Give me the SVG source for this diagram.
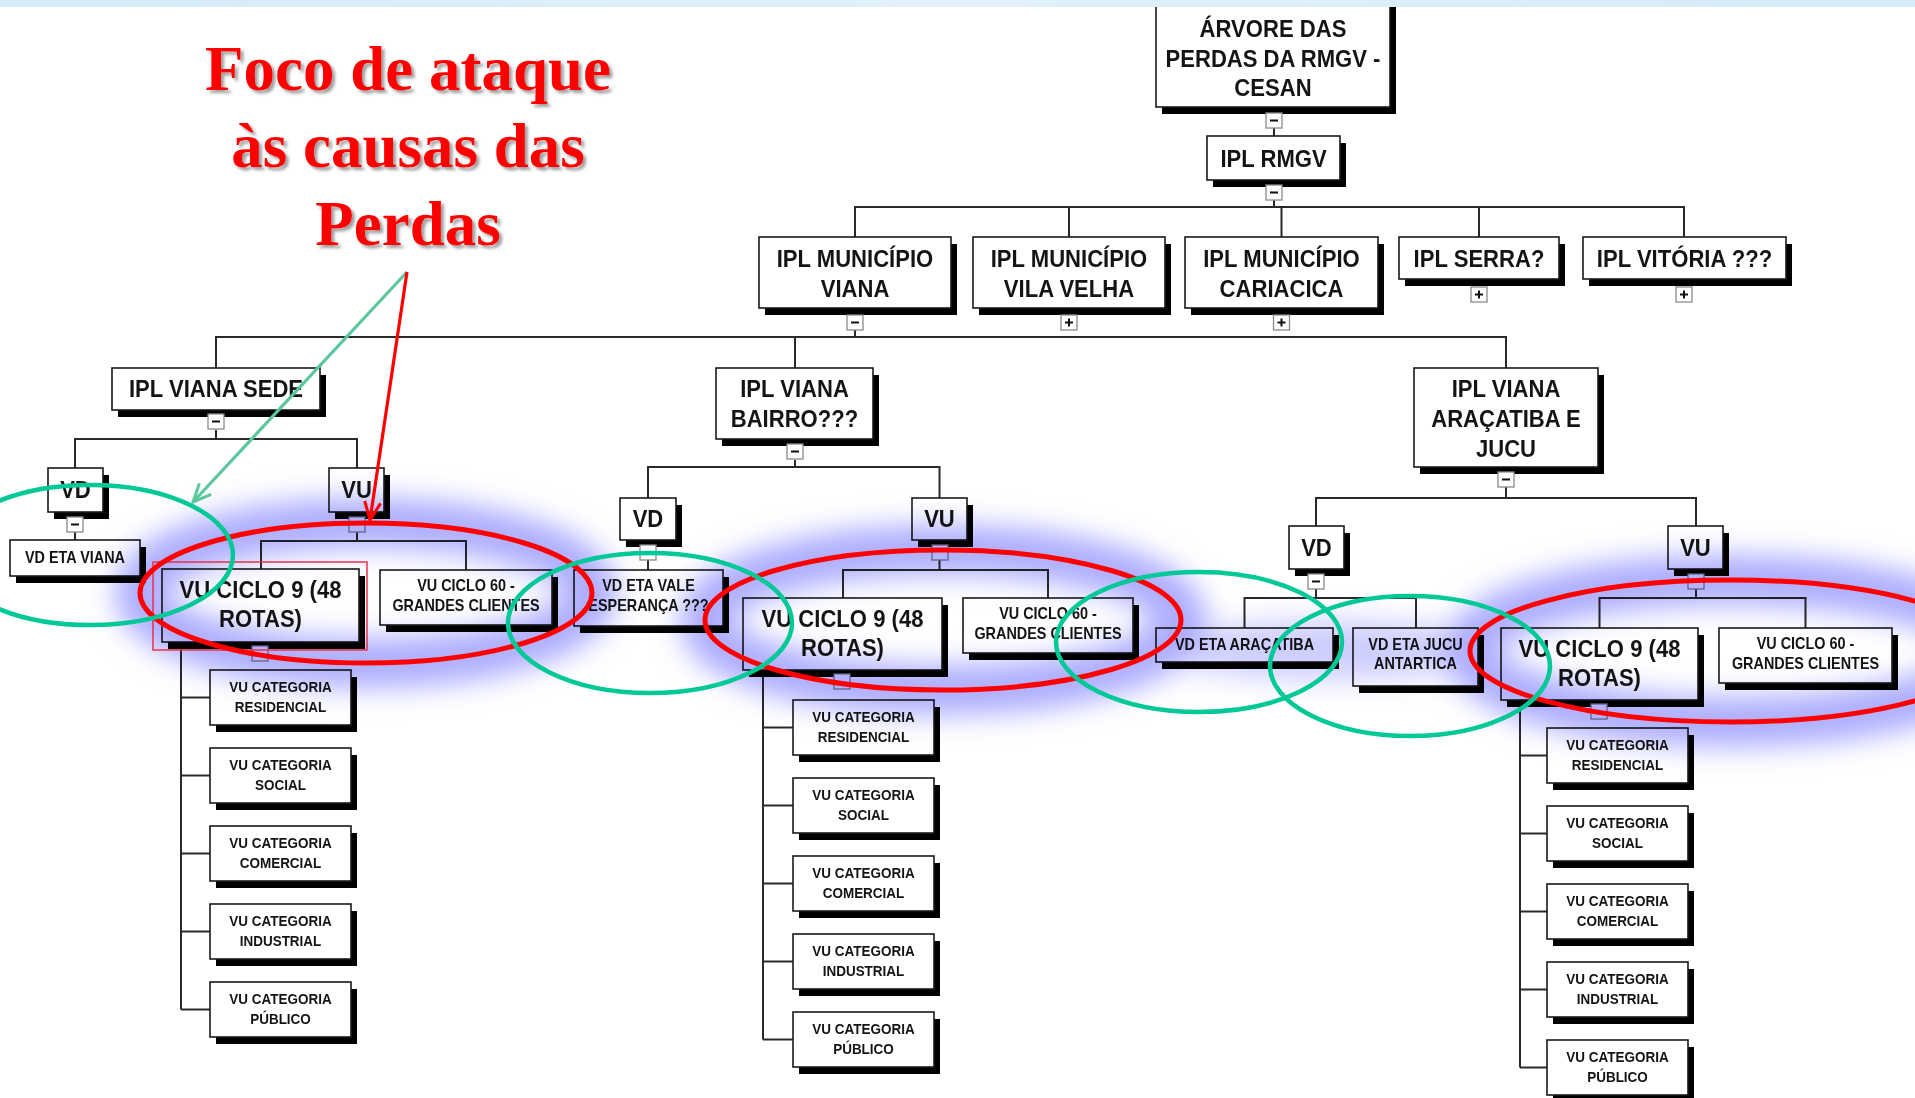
<svg xmlns="http://www.w3.org/2000/svg" width="1915" height="1098" viewBox="0 0 1915 1098">
<defs>
<style>
.sh{fill:#000}
.bx{fill:#fff;stroke:#1a1a1a;stroke-width:1.6}
.tg{fill:#fff;stroke:#8a8a8a;stroke-width:1.3}
.tm{stroke:#111;stroke-width:2}
.ln{fill:none;stroke:#2a2a2a;stroke-width:2}
.L,.S,.C{font-family:"Liberation Sans",Arial,sans-serif;font-weight:bold;text-anchor:middle;fill:#141414;transform-box:fill-box;transform-origin:center}
.L{font-size:24px;transform:scaleX(0.92)}
.S{font-size:16px;transform:scaleX(0.9)}
.C{font-size:15px;transform:scaleX(0.9)}
.glow{fill:none;stroke:#9494ff;stroke-width:50}
.red{fill:none;stroke:#ff0000;stroke-width:5}
.grn{fill:none;stroke:#00c896;stroke-width:4.5}
.title{font-family:"Liberation Serif","Times New Roman",serif;font-weight:bold;font-size:63px;fill:#ff0000;text-anchor:middle}
</style>
<linearGradient id="bar" x1="0" y1="0" x2="1" y2="0">
<stop offset="0" stop-color="#d6ebf8"/>
<stop offset="0.5" stop-color="#e2f1fa"/>
<stop offset="1" stop-color="#d6ebf8"/>
</linearGradient>
<filter id="blur" x="-20%" y="-50%" width="140%" height="200%"><feGaussianBlur stdDeviation="14"/></filter>
<filter id="tsh" x="-10%" y="-20%" width="120%" height="140%"><feDropShadow dx="3" dy="3" stdDeviation="1.5" flood-color="#777" flood-opacity="0.7"/></filter>
<marker id="ahG" viewBox="0 0 22 20" refX="20" refY="10" markerWidth="22" markerHeight="20" markerUnits="userSpaceOnUse" orient="auto"><path d="M2,2 L20,10 L2,18" fill="none" stroke="#5cc79c" stroke-width="3"/></marker>
<marker id="ahR" viewBox="0 0 22 20" refX="20" refY="10" markerWidth="22" markerHeight="20" markerUnits="userSpaceOnUse" orient="auto"><path d="M2,2 L20,10 L2,18" fill="none" stroke="#ff0000" stroke-width="3"/></marker>
</defs>
<rect width="1915" height="1098" fill="#fff"/>

<g id="connectors">
<path class="ln" d="M1274 107V136"/>
<path class="ln" d="M1274 200V207M855 237V207H1684V237M1069 207V237M1281.5 207V237M1479 207V237"/>
<path class="ln" d="M855 330V337M216 368V337H1506V368M795 337V368"/>
<path class="ln" d="M216 430V439M75 468V439H357V468"/>
<path class="ln" d="M75 532V540"/>
<path class="ln" d="M357 532V541M261 569V541H466V570"/>
<path class="ln" d="M181 642V1009.5M181 697.5H210M181 775.5H210M181 853.5H210M181 931.5H210M181 1009.5H210"/>
<path class="ln" d="M795 460V467M648 498V467H939.5V498"/>
<path class="ln" d="M648 560V570"/>
<path class="ln" d="M939.5 560V570M843 598V570H1048V598"/>
<path class="ln" d="M763 670V1039.5M763 727.5H793M763 805.5H793M763 883.5H793M763 961.5H793M763 1039.5H793"/>
<path class="ln" d="M1506 487V498M1316 526V498H1696V526"/>
<path class="ln" d="M1316 589V598M1244.5 628V598H1416V628"/>
<path class="ln" d="M1696 589V598M1599.5 628V598H1805.5V628"/>
<path class="ln" d="M1520 700V1067.5M1520 755.5H1547M1520 833.5H1547M1520 911.5H1547M1520 989.5H1547M1520 1067.5H1547"/>
</g>

<g id="n-root"><rect class="sh" x="1162" y="5" width="234" height="109"/><rect class="bx" x="1156" y="-2" width="234" height="109"/>
<text class="L" x="1273" y="37">ÁRVORE DAS</text><text class="L" x="1273" y="67">PERDAS DA RMGV -</text><text class="L" x="1273" y="96">CESAN</text>
<rect class="tg" x="1266" y="113" width="16" height="15"/><path class="tm" d="M1270 120.5H1278"/></g>

<g id="n-rmgv"><rect class="sh" x="1213" y="143" width="133" height="44"/><rect class="bx" x="1207" y="136" width="133" height="44"/>
<text class="L" x="1273.5" y="167">IPL RMGV</text>
<rect class="tg" x="1266" y="185" width="16" height="15"/><path class="tm" d="M1270 192.5H1278"/></g>

<g id="n-viana"><rect class="sh" x="765" y="244" width="192" height="71"/><rect class="bx" x="759" y="237" width="192" height="71"/>
<text class="L" x="855" y="267">IPL MUNICÍPIO</text><text class="L" x="855" y="297">VIANA</text>
<rect class="tg" x="847" y="315" width="16" height="15"/><path class="tm" d="M851 322.5H859"/></g>

<g id="n-vilavelha"><rect class="sh" x="979" y="244" width="192" height="71"/><rect class="bx" x="973" y="237" width="192" height="71"/>
<text class="L" x="1069" y="267">IPL MUNICÍPIO</text><text class="L" x="1069" y="297">VILA VELHA</text>
<rect class="tg" x="1061" y="315" width="16" height="15"/><path class="tm" d="M1065 322.5H1073M1069 318.5V326.5"/></g>

<g id="n-cariacica"><rect class="sh" x="1191" y="244" width="193" height="71"/><rect class="bx" x="1185" y="237" width="193" height="71"/>
<text class="L" x="1281.5" y="267">IPL MUNICÍPIO</text><text class="L" x="1281.5" y="297">CARIACICA</text>
<rect class="tg" x="1273.5" y="315" width="16" height="15"/><path class="tm" d="M1277.5 322.5H1285.5M1281.5 318.5V326.5"/></g>

<g id="n-serra"><rect class="sh" x="1405" y="244" width="160" height="42"/><rect class="bx" x="1399" y="237" width="160" height="42"/>
<text class="L" x="1479" y="267">IPL SERRA?</text>
<rect class="tg" x="1471" y="287" width="16" height="15"/><path class="tm" d="M1475 294.5H1483M1479 290.5V298.5"/></g>

<g id="n-vitoria"><rect class="sh" x="1589" y="244" width="203" height="42"/><rect class="bx" x="1583" y="237" width="203" height="42"/>
<text class="L" x="1684.5" y="267">IPL VITÓRIA ???</text>
<rect class="tg" x="1676" y="287" width="16" height="15"/><path class="tm" d="M1680 294.5H1688M1684 290.5V298.5"/></g>

<g id="n-sede"><rect class="sh" x="118" y="375" width="208" height="42"/><rect class="bx" x="112" y="368" width="208" height="42"/>
<text class="L" x="216" y="397">IPL VIANA SEDE</text>
<rect class="tg" x="208" y="414" width="16" height="15"/><path class="tm" d="M212 421.5H220"/></g>

<g id="n-vd1"><rect class="sh" x="54" y="475" width="55" height="44"/><rect class="bx" x="48" y="468" width="55" height="44"/>
<text class="L" x="75.5" y="498">VD</text>
<rect class="tg" x="67" y="517" width="16" height="15"/><path class="tm" d="M71 524.5H79"/></g>

<g id="n-vdetaviana"><rect class="sh" x="16" y="547" width="130" height="36"/><rect class="bx" x="10" y="540" width="130" height="36"/>
<text class="S" x="75" y="563">VD ETA VIANA</text></g>

<g id="n-vu1"><rect class="sh" x="335" y="475" width="55" height="44"/><rect class="bx" x="329" y="468" width="55" height="44"/>
<text class="L" x="356.5" y="498">VU</text>
<rect class="tg" x="349" y="517" width="16" height="15"/></g>

<g id="n-ciclo9-1"><rect class="sh" x="168" y="576" width="197" height="73"/><rect class="bx" x="162" y="569" width="197" height="73"/>
<text class="L" x="260.5" y="598">VU CICLO 9 (48</text><text class="L" x="260.5" y="627">ROTAS)</text>
<rect class="tg" x="252" y="646" width="16" height="15"/></g>

<g id="n-ciclo60-1"><rect class="sh" x="386" y="577" width="172" height="55"/><rect class="bx" x="380" y="570" width="172" height="55"/>
<text class="S" x="466" y="591">VU CICLO 60 -</text><text class="S" x="466" y="611">GRANDES CLIENTES</text></g>

<g id="n-cat-res-1"><rect class="sh" x="216" y="677" width="141" height="55"/><rect class="bx" x="210" y="670" width="141" height="55"/><text class="C" x="280.5" y="692.5">VU CATEGORIA</text><text class="C" x="280.5" y="712.5">RESIDENCIAL</text></g>
<g id="n-cat-soc-1"><rect class="sh" x="216" y="755" width="141" height="55"/><rect class="bx" x="210" y="748" width="141" height="55"/><text class="C" x="280.5" y="770.5">VU CATEGORIA</text><text class="C" x="280.5" y="790.5">SOCIAL</text></g>
<g id="n-cat-com-1"><rect class="sh" x="216" y="833" width="141" height="55"/><rect class="bx" x="210" y="826" width="141" height="55"/><text class="C" x="280.5" y="848.5">VU CATEGORIA</text><text class="C" x="280.5" y="868.5">COMERCIAL</text></g>
<g id="n-cat-ind-1"><rect class="sh" x="216" y="911" width="141" height="55"/><rect class="bx" x="210" y="904" width="141" height="55"/><text class="C" x="280.5" y="926.5">VU CATEGORIA</text><text class="C" x="280.5" y="946.5">INDUSTRIAL</text></g>
<g id="n-cat-pub-1"><rect class="sh" x="216" y="989" width="141" height="55"/><rect class="bx" x="210" y="982" width="141" height="55"/><text class="C" x="280.5" y="1004.5">VU CATEGORIA</text><text class="C" x="280.5" y="1024.5">PÚBLICO</text></g>

<g id="n-bairro"><rect class="sh" x="722" y="375" width="157" height="71"/><rect class="bx" x="716" y="368" width="157" height="71"/>
<text class="L" x="794.5" y="397">IPL VIANA</text><text class="L" x="794.5" y="427">BAIRRO???</text>
<rect class="tg" x="787" y="444" width="16" height="15"/><path class="tm" d="M791 451.5H799"/></g>

<g id="n-vd2"><rect class="sh" x="626" y="505" width="56" height="42"/><rect class="bx" x="620" y="498" width="56" height="42"/>
<text class="L" x="648" y="527.5">VD</text>
<rect class="tg" x="640" y="545" width="16" height="15"/></g>

<g id="n-vdetavale"><rect class="sh" x="580" y="577" width="149" height="56"/><rect class="bx" x="574" y="570" width="149" height="56"/>
<text class="S" x="648.5" y="591">VD ETA VALE</text><text class="S" x="648.5" y="611">ESPERANÇA ???</text></g>

<g id="n-vu2"><rect class="sh" x="918" y="505" width="55" height="42"/><rect class="bx" x="912" y="498" width="55" height="42"/>
<text class="L" x="939.5" y="527.5">VU</text>
<rect class="tg" x="932" y="545" width="16" height="15"/></g>

<g id="n-ciclo9-2"><rect class="sh" x="749" y="605" width="199" height="72"/><rect class="bx" x="743" y="598" width="199" height="72"/>
<text class="L" x="842.5" y="627">VU CICLO 9 (48</text><text class="L" x="842.5" y="656">ROTAS)</text>
<rect class="tg" x="834" y="674" width="16" height="15"/></g>

<g id="n-ciclo60-2"><rect class="sh" x="969" y="605" width="170" height="55"/><rect class="bx" x="963" y="598" width="170" height="55"/>
<text class="S" x="1048" y="619">VU CICLO 60 -</text><text class="S" x="1048" y="639">GRANDES CLIENTES</text></g>

<g id="n-cat-res-2"><rect class="sh" x="799" y="707" width="141" height="55"/><rect class="bx" x="793" y="700" width="141" height="55"/><text class="C" x="863.5" y="722.5">VU CATEGORIA</text><text class="C" x="863.5" y="742.5">RESIDENCIAL</text></g>
<g id="n-cat-soc-2"><rect class="sh" x="799" y="785" width="141" height="55"/><rect class="bx" x="793" y="778" width="141" height="55"/><text class="C" x="863.5" y="800.5">VU CATEGORIA</text><text class="C" x="863.5" y="820.5">SOCIAL</text></g>
<g id="n-cat-com-2"><rect class="sh" x="799" y="863" width="141" height="55"/><rect class="bx" x="793" y="856" width="141" height="55"/><text class="C" x="863.5" y="878.5">VU CATEGORIA</text><text class="C" x="863.5" y="898.5">COMERCIAL</text></g>
<g id="n-cat-ind-2"><rect class="sh" x="799" y="941" width="141" height="55"/><rect class="bx" x="793" y="934" width="141" height="55"/><text class="C" x="863.5" y="956.5">VU CATEGORIA</text><text class="C" x="863.5" y="976.5">INDUSTRIAL</text></g>
<g id="n-cat-pub-2"><rect class="sh" x="799" y="1019" width="141" height="55"/><rect class="bx" x="793" y="1012" width="141" height="55"/><text class="C" x="863.5" y="1034.5">VU CATEGORIA</text><text class="C" x="863.5" y="1054.5">PÚBLICO</text></g>

<g id="n-aracatiba"><rect class="sh" x="1420" y="375" width="184" height="99"/><rect class="bx" x="1414" y="368" width="184" height="99"/>
<text class="L" x="1506" y="397">IPL VIANA</text><text class="L" x="1506" y="427">ARAÇATIBA E</text><text class="L" x="1506" y="457">JUCU</text>
<rect class="tg" x="1498" y="472" width="16" height="15"/><path class="tm" d="M1502 479.5H1510"/></g>

<g id="n-vd3"><rect class="sh" x="1295" y="533" width="55" height="43"/><rect class="bx" x="1289" y="526" width="55" height="43"/>
<text class="L" x="1316.5" y="556">VD</text>
<rect class="tg" x="1308" y="574" width="16" height="15"/><path class="tm" d="M1312 581.5H1320"/></g>

<g id="n-vdetaarac"><rect class="sh" x="1162" y="635" width="177" height="34"/><rect class="bx" x="1156" y="628" width="177" height="34"/>
<text class="S" x="1244.5" y="650">VD ETA ARAÇATIBA</text></g>

<g id="n-vdetajucu"><rect class="sh" x="1359" y="635" width="125" height="58"/><rect class="bx" x="1353" y="628" width="125" height="58"/>
<text class="S" x="1415.5" y="650">VD ETA JUCU</text><text class="S" x="1415.5" y="669">ANTARTICA</text></g>

<g id="n-vu3"><rect class="sh" x="1674" y="533" width="55" height="43"/><rect class="bx" x="1668" y="526" width="55" height="43"/>
<text class="L" x="1695.5" y="556">VU</text>
<rect class="tg" x="1688" y="574" width="16" height="15"/></g>

<g id="n-ciclo9-3"><rect class="sh" x="1507" y="635" width="197" height="72"/><rect class="bx" x="1501" y="628" width="197" height="72"/>
<text class="L" x="1599.5" y="657">VU CICLO 9 (48</text><text class="L" x="1599.5" y="686">ROTAS)</text>
<rect class="tg" x="1591" y="704" width="16" height="15"/></g>

<g id="n-ciclo60-3"><rect class="sh" x="1725" y="635" width="173" height="55"/><rect class="bx" x="1719" y="628" width="173" height="55"/>
<text class="S" x="1805.5" y="649">VU CICLO 60 -</text><text class="S" x="1805.5" y="669">GRANDES CLIENTES</text></g>

<g id="n-cat-res-3"><rect class="sh" x="1553" y="735" width="141" height="55"/><rect class="bx" x="1547" y="728" width="141" height="55"/><text class="C" x="1617.5" y="750.5">VU CATEGORIA</text><text class="C" x="1617.5" y="770.5">RESIDENCIAL</text></g>
<g id="n-cat-soc-3"><rect class="sh" x="1553" y="813" width="141" height="55"/><rect class="bx" x="1547" y="806" width="141" height="55"/><text class="C" x="1617.5" y="828.5">VU CATEGORIA</text><text class="C" x="1617.5" y="848.5">SOCIAL</text></g>
<g id="n-cat-com-3"><rect class="sh" x="1553" y="891" width="141" height="55"/><rect class="bx" x="1547" y="884" width="141" height="55"/><text class="C" x="1617.5" y="906.5">VU CATEGORIA</text><text class="C" x="1617.5" y="926.5">COMERCIAL</text></g>
<g id="n-cat-ind-3"><rect class="sh" x="1553" y="969" width="141" height="55"/><rect class="bx" x="1547" y="962" width="141" height="55"/><text class="C" x="1617.5" y="984.5">VU CATEGORIA</text><text class="C" x="1617.5" y="1004.5">INDUSTRIAL</text></g>
<g id="n-cat-pub-3"><rect class="sh" x="1553" y="1047" width="141" height="55"/><rect class="bx" x="1547" y="1040" width="141" height="55"/><text class="C" x="1617.5" y="1062.5">VU CATEGORIA</text><text class="C" x="1617.5" y="1082.5">PÚBLICO</text></g>

<g id="glow" filter="url(#blur)" style="mix-blend-mode:multiply" opacity="0.78">
<ellipse class="glow" cx="366" cy="593" rx="226" ry="70"/>
<ellipse class="glow" cx="943" cy="620" rx="238" ry="70"/>
<ellipse class="glow" cx="1730" cy="651" rx="260" ry="71"/>
<ellipse cx="1330" cy="650" rx="170" ry="30" fill="#9494ff" opacity="0.6"/>
</g>

<rect id="selection" x="153" y="562" width="214" height="88" fill="none" stroke="#e8304a" stroke-width="1.5"/>

<g id="highlights">
<ellipse class="red" cx="366" cy="593" rx="226" ry="70"/>
<ellipse class="red" cx="943" cy="620" rx="238" ry="70"/>
<ellipse class="red" cx="1730" cy="651" rx="260" ry="71"/>
<ellipse class="grn" cx="90" cy="555" rx="143" ry="70"/>
<ellipse class="grn" cx="650" cy="623" rx="142" ry="70"/>
<ellipse class="grn" cx="1199" cy="642" rx="143" ry="70"/>
<ellipse class="grn" cx="1410" cy="666" rx="140" ry="70"/>
</g>

<g id="arrows">
<path d="M407 272L193 502" fill="none" stroke="#5cc79c" stroke-width="3.2" marker-end="url(#ahG)"/>
<path d="M407 272L370 520" fill="none" stroke="#ff0000" stroke-width="3.2" marker-end="url(#ahR)"/>
</g>

<g id="title" filter="url(#tsh)">
<text class="title" x="408" y="90">Foco de ataque</text>
<text class="title" x="408" y="167">às causas das</text>
<text class="title" x="408" y="245">Perdas</text>
</g>

<rect id="topbar" x="0" y="0" width="1915" height="7" fill="url(#bar)"/>
</svg>
